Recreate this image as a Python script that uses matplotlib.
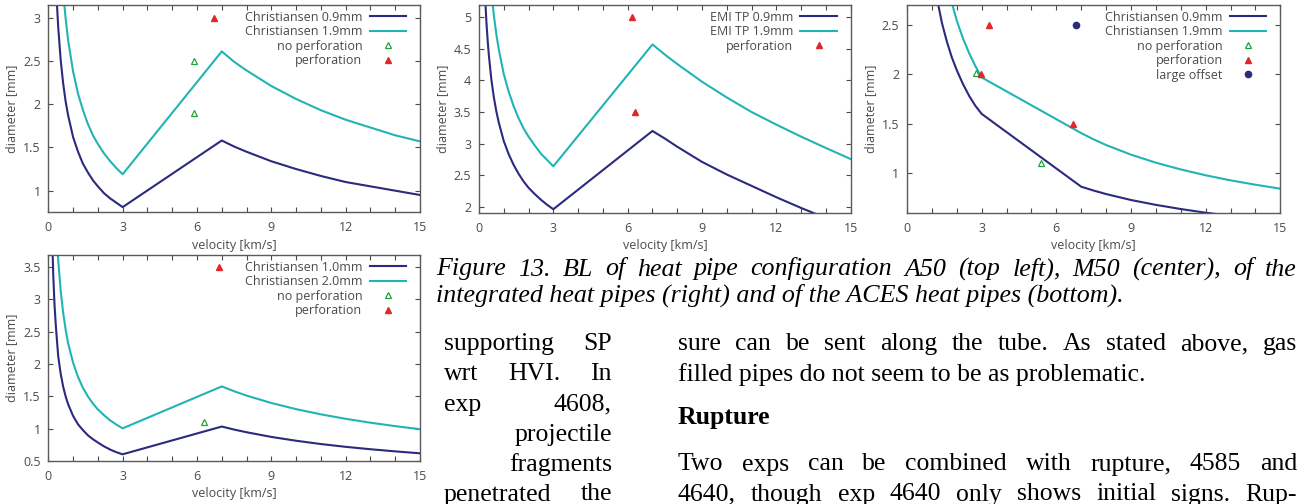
import matplotlib
matplotlib.use("Agg")
import matplotlib.pyplot as plt
from matplotlib.ticker import FuncFormatter, MultipleLocator
from matplotlib import font_manager

# velocity grid [km/s]
velocity = [0.15, 0.2, 0.25, 0.3, 0.35, 0.4, 0.5, 0.6, 0.7, 0.8, 1.0, 1.2, 1.4, 1.6, 1.8,
            2.0, 2.25, 2.5, 2.75, 3.0, 7, 7.5, 8, 9, 10, 11, 12, 13, 14, 15]

# A50 (top left)
a50_09 = [5.38, 4.49, 3.90, 3.47, 3.15, 2.89, 2.51, 2.24, 2.03, 1.87, 1.62, 1.45, 1.31, 1.21, 1.12,
          1.05, 0.97, 0.91, 0.86, 0.81, 1.58, 1.51, 1.45, 1.34, 1.25, 1.17, 1.10, 1.05, 1.00, 0.95]
a50_19 = [7.90, 6.59, 5.72, 5.10, 4.63, 4.25, 3.69, 3.29, 2.99, 2.74, 2.38, 2.12, 1.93, 1.77, 1.64,
          1.54, 1.43, 1.34, 1.26, 1.19, 2.61, 2.49, 2.39, 2.21, 2.06, 1.93, 1.82, 1.73, 1.64, 1.57]
a50_noperf_v = [5.88, 5.88]
a50_noperf_d = [2.5, 1.9]
a50_perf_v = [6.68]
a50_perf_d = [3.0]

# M50 (center)
m50_09 = [6.50, 5.79, 5.30, 4.92, 4.63, 4.39, 4.01, 3.73, 3.51, 3.33, 3.04, 2.83, 2.66, 2.52, 2.40,
          2.30, 2.20, 2.11, 2.03, 1.96, 3.20, 3.08, 2.95, 2.71, 2.51, 2.33, 2.15, 1.98, 1.82, 1.67]
m50_19 = [8.76, 7.81, 7.14, 6.64, 6.25, 5.92, 5.41, 5.03, 4.73, 4.49, 4.10, 3.82, 3.59, 3.40, 3.24,
          3.11, 2.97, 2.84, 2.74, 2.64, 4.57, 4.41, 4.26, 3.98, 3.73, 3.50, 3.30, 3.11, 2.93, 2.755]
m50_perf_v = [6.17, 6.29]
m50_perf_d = [5.0, 3.5]

# integrated heat pipes (right)
int_09 = [9.6, 8.1, 7.1, 6.4, 5.8, 5.35, 4.68, 4.2, 3.82, 3.53, 3.09, 2.77, 2.52, 2.33, 2.17,
          2.04, 1.90, 1.78, 1.68, 1.60, 0.866, 0.827, 0.792, 0.732, 0.683, 0.641, 0.604, 0.573, 0.546, 0.521]
int_19 = [13.1, 10.9, 9.46, 8.43, 7.65, 7.03, 6.10, 5.44, 4.94, 4.54, 3.94, 3.51, 3.18, 2.93, 2.72,
          2.54, 2.36, 2.21, 2.08, 1.967, 1.406, 1.343, 1.286, 1.189, 1.108, 1.040, 0.981, 0.930, 0.886, 0.846]
int_noperf_v = [2.77, 5.38]
int_noperf_d = [2.01, 1.1]
int_perf_v = [3.28, 2.97, 6.67]
int_perf_d = [2.5, 2.0, 1.5]
int_offset_v = [6.78]
int_offset_d = [2.5]

# ACES heat pipes (bottom)
aces_10 = [4.04, 3.37, 2.92, 2.61, 2.36, 2.12, 1.85, 1.65, 1.50, 1.38, 1.20, 1.07, 0.98, 0.90, 0.84,
           0.79, 0.73, 0.68, 0.64, 0.608, 1.036, 0.989, 0.948, 0.876, 0.817, 0.766, 0.723, 0.686, 0.653, 0.623]
aces_20 = [6.69, 5.58, 4.85, 4.32, 3.92, 3.60, 3.13, 2.79, 2.53, 2.32, 2.02, 1.80, 1.63, 1.50, 1.39,
           1.30, 1.21, 1.13, 1.065, 1.008, 1.654, 1.580, 1.513, 1.399, 1.304, 1.224, 1.155, 1.095, 1.042, 0.995]
aces_noperf_v = [6.29]
aces_noperf_d = [1.11]
aces_perf_v = [6.87]
aces_perf_d = [3.5]

W, H = 1302, 504
DARK = "#2b2a7e"
CYAN = "#22b4b4"
GREEN = "#22a33a"
RED = "#e3262a"
GREY = "#4a4a4a"

plt.rcParams["font.family"] = ["Open Sans", "DejaVu Sans"]
plt.rcParams["font.size"] = 9

fig = plt.figure(figsize=(W / 100, H / 100), dpi=100)


def px_axes(left, top, right, bottom):
    return fig.add_axes([left / W, 1 - bottom / H, (right - left) / W, (bottom - top) / H])


def style_axes(ax, ylim, ystep):
    ax.set_xlim(0, 15)
    ax.set_ylim(*ylim)
    ax.xaxis.set_major_locator(MultipleLocator(3))
    ax.xaxis.set_minor_locator(MultipleLocator(1))
    ax.yaxis.set_major_locator(MultipleLocator(ystep))
    fmt = FuncFormatter(lambda v, p: "%g" % round(v, 3))
    ax.xaxis.set_major_formatter(fmt)
    ax.yaxis.set_major_formatter(fmt)
    ax.tick_params(which="both", direction="in", top=True, right=True, length=3.6,
                   width=0.8, color=GREY, labelcolor=GREY, labelsize=9)
    ax.tick_params(axis="x", pad=6.5)
    ax.tick_params(axis="y", pad=5.5)
    for s in ax.spines.values():
        s.set_color("#5a5a5a")
        s.set_linewidth(1.0)
    ax.set_xlabel("velocity [km/s]", color=GREY, fontsize=9, va="center")
    ax.set_ylabel("diameter [mm]", color=GREY, fontsize=9, va="center")
    ax.xaxis.set_label_coords(0.5, -0.158)
    ax.yaxis.set_label_coords(-0.098, 0.5)


def add_legend(ax):
    ax.legend(loc="upper right", bbox_to_anchor=(1 - 14 / 372, 1 - 6 / 208), frameon=False,
              markerfirst=False, handlelength=2.9, handletextpad=0.6, labelspacing=0.12,
              borderpad=0, borderaxespad=0, numpoints=1, fontsize=9, labelcolor=GREY)


def draw(ax, d_thin, d_thick, lab_thin, lab_thick, noperf=None, perf=None, offset=None):
    ax.plot(velocity, d_thin, color=DARK, lw=1.5, label=lab_thin)
    ax.plot(velocity, d_thick, color=CYAN, lw=1.5, label=lab_thick)
    if noperf is not None:
        ax.plot(noperf[0], noperf[1], ls="none", marker="^", ms=5, mfc="none", mec=GREEN,
                mew=0.9, label="no perforation")
    if perf is not None:
        ax.plot(perf[0], perf[1], ls="none", marker="^", ms=5, color=RED, label="perforation")
    if offset is not None:
        ax.plot(offset[0], offset[1], ls="none", marker="o", ms=4.5, color=DARK, label="large offset")


ax1 = px_axes(48.3, 4.7, 420, 212.3)
draw(ax1, a50_09, a50_19, "Christiansen 0.9mm", "Christiansen 1.9mm",
     noperf=(a50_noperf_v, a50_noperf_d), perf=(a50_perf_v, a50_perf_d))
style_axes(ax1, (0.75, 3.15), 0.5)
add_legend(ax1)

ax2 = px_axes(479, 4.7, 850.7, 212.7)
draw(ax2, m50_09, m50_19, "EMI TP 0.9mm", "EMI TP 1.9mm", perf=(m50_perf_v, m50_perf_d))
style_axes(ax2, (1.905, 5.2), 0.5)
add_legend(ax2)

ax3 = px_axes(907, 4.7, 1280.3, 212.7)
draw(ax3, int_09, int_19, "Christiansen 0.9mm", "Christiansen 1.9mm",
     noperf=(int_noperf_v, int_noperf_d), perf=(int_perf_v, int_perf_d),
     offset=(int_offset_v, int_offset_d))
style_axes(ax3, (0.604, 2.70), 0.5)
add_legend(ax3)

ax4 = px_axes(48.3, 254.7, 420, 461.3)
draw(ax4, aces_10, aces_20, "Christiansen 1.0mm", "Christiansen 2.0mm",
     noperf=(aces_noperf_v, aces_noperf_d), perf=(aces_perf_v, aces_perf_d))
style_axes(ax4, (0.5, 3.685), 0.5)
add_legend(ax4)


# look up the Times-like serif files directly (regular / italic / bold)
def serif_file(style, bold):
    for f in font_manager.fontManager.ttflist:
        name = f.name.lower()
        path = f.fname.lower()
        if "liberation serif" in name or "liberationserif" in path:
            is_bold = (f.weight in (700, "bold")) or "bold" in path
            is_italic = f.style == "italic" or "italic" in path
            if is_bold == bold and is_italic == (style == "italic"):
                return f.fname
    return None


renderer = fig.canvas.get_renderer()


def put_line(text, x0, x1, y, size, mode="justify", style="normal", weight="normal"):
    fpath = serif_file(style, weight == "bold")
    if fpath:
        kw = dict(fontproperties=font_manager.FontProperties(fname=fpath, size=size))
    else:
        kw = dict(fontsize=size, family="serif", style=style, weight=weight)
    kw.update(va="baseline", color="black")
    if mode == "left":
        fig.text(x0 / W, 1 - y / H, text, ha="left", **kw)
        return
    if mode == "right":
        fig.text(x1 / W, 1 - y / H, text, ha="right", **kw)
        return
    words = text.split()
    items = [fig.text(0, 0, w, **kw) for w in words]
    widths = [t.get_window_extent(renderer).width for t in items]
    gap = (x1 - x0 - sum(widths)) / max(len(words) - 1, 1)
    gap = max(gap, 0.2 * size)
    x = x0
    for t, w in zip(items, widths):
        t.set_position((x / W, 1 - y / H))
        x += w + gap


cap = 18.7
put_line("Figure 13.  BL of heat pipe configuration A50 (top left), M50 (center), of the",
         436, 1297, 275.5, cap, style="italic")
put_line("integrated heat pipes (right) and of the ACES heat pipes (bottom).",
         436, 1297, 302, cap, mode="left", style="italic")

body = 18.5
put_line("supporting SP", 444, 612, 350, body)
put_line("wrt HVI. In", 444, 612, 380.5, body)
put_line("exp 4608,", 444, 612, 410.5, body)
put_line("projectile", 444, 612, 440.5, body, mode="right")
put_line("fragments", 444, 612, 470.5, body, mode="right")
put_line("penetrated the", 444, 612, 500.5, body)

put_line("sure can be sent along the tube.  As stated above, gas", 678, 1297, 350, body)
put_line("filled pipes do not seem to be as problematic.", 678, 1297, 380.5, body, mode="left")
put_line("Rupture", 678, 1297, 424, body, mode="left", weight="bold")
put_line("Two exps can be combined with rupture, 4585 and", 678, 1297, 470.5, body)
put_line("4640, though exp 4640 only shows initial signs.  Rup-", 678, 1297, 500.5, body)

fig.savefig("out.png", dpi=100)
